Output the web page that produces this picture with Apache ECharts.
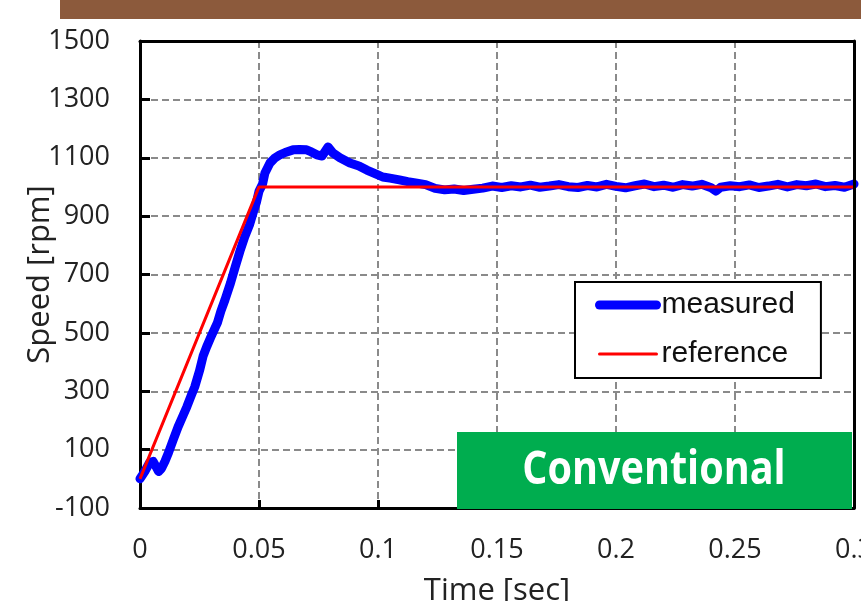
<!DOCTYPE html>
<html>
<head>
<meta charset="utf-8">
<script src="https://cdn.jsdelivr.net/npm/echarts@6/dist/echarts.min.js"></script>
<style>
html,body{margin:0;padding:0;background:#fff;}
#chart{width:861px;height:601px;}
</style>
</head>
<body>
<div id="chart"></div>
<script>
// ---- data ----
const xTicks = [0, 0.05, 0.1, 0.15, 0.2, 0.25, 0.3];
const yTicks = [-100, 100, 300, 500, 700, 900, 1100, 1300, 1500];

const measuredTime = [
  0, 0.002, 0.004, 0.0055, 0.0065, 0.0078, 0.009, 0.0105, 0.012, 0.014,
  0.016, 0.018, 0.0197, 0.0215, 0.023, 0.025, 0.0265, 0.028, 0.030, 0.0325,
  0.034, 0.0357, 0.038, 0.040, 0.042, 0.044, 0.046, 0.0475, 0.049, 0.050,
  0.0515, 0.0525, 0.0546, 0.0565, 0.0588, 0.061, 0.0643, 0.067, 0.070, 0.072,
  0.0743, 0.0765, 0.079, 0.0811, 0.084, 0.0882, 0.092, 0.0953, 0.099, 0.102,
  0.105, 0.109, 0.1125, 0.1164, 0.120,
  0.124, 0.128, 0.132, 0.136, 0.140, 0.144, 0.148, 0.152, 0.156, 0.160,
  0.164, 0.168, 0.172, 0.176, 0.180, 0.184, 0.188, 0.192, 0.196, 0.200,
  0.204, 0.208, 0.212, 0.216, 0.220, 0.224, 0.228, 0.232, 0.236, 0.240,
  0.242, 0.244, 0.248, 0.252, 0.256, 0.260, 0.264, 0.268, 0.272, 0.276,
  0.280, 0.284, 0.288, 0.292, 0.296, 0.300
];
const measuredSpeed = [
  0, 25, 55, 60, 45, 25, 35, 60, 90, 135,
  178, 215, 247, 285, 315, 370, 420, 452, 490, 534,
  575, 613, 670, 726, 780, 829, 870, 911, 950, 985,
  1010, 1048, 1082, 1098, 1110, 1118, 1127, 1128, 1127, 1120,
  1110, 1106, 1137, 1116, 1100, 1082, 1072, 1058, 1045, 1034,
  1030, 1024, 1018, 1013, 1008,
  995, 990, 993, 988, 992, 996, 1003, 998, 1004, 1000,
  1006, 999, 1003, 1008, 1001, 998, 1005, 1000, 1009, 1002,
  997, 1004, 1010, 1001, 1006, 999, 1008, 1003, 1009, 997,
  986, 999, 1004, 1001, 1007, 998, 1003, 1009, 1000, 1008,
  1004, 1010, 1001, 1005, 999, 1010
];
const referenceTime = [0, 0.05, 0.3];
const referenceSpeed = [0, 1000, 1000];

const seriesNames = ['measured', 'reference'];
const titleX = 'Time [sec]';
const titleY = 'Speed [rpm]';
const badgeText = 'Conventional';

// ---- chart ----
const pairs = (xs, ys) => xs.map((x, i) => [x, ys[i]]);
const labelFont = 'Open Sans';
const xMin = xTicks[0], xMax = xTicks[xTicks.length - 1];
const yMin = yTicks[0], yMax = yTicks[yTicks.length - 1];
const gridLine = {show: true, lineStyle: {color: '#8a8a8a', width: 2, type: [7, 4]}};
const frameAxis = {
  axisLine: {show: true, onZero: false, lineStyle: {color: '#000', width: 3}},
  axisTick: {show: false}, axisLabel: {show: false}, splitLine: {show: false},
  z: 5
};

const chart = echarts.init(document.getElementById('chart'), null, {renderer: 'canvas'});
chart.setOption({
  animation: false,
  backgroundColor: '#fff',
  grid: {
    left: 140, top: 41, right: 7, bottom: 93,
    containLabel: false, outerBoundsMode: 'none'
  },
  xAxis: [{
    type: 'value',
    min: xMin, max: xMax, interval: 0.05,
    name: titleX, nameLocation: 'middle', nameGap: 68, nameMoveOverlap: false,
    nameTextStyle: {fontFamily: labelFont, fontSize: 31, color: '#222'},
    axisLine: {onZero: false, lineStyle: {color: '#000', width: 3}},
    axisTick: {inside: true, length: 8, lineStyle: {color: '#000', width: 3}},
    axisLabel: {
      margin: 29, fontFamily: labelFont, fontSize: 27, color: '#222',
      formatter: v => String(Math.round(v * 1000) / 1000)
    },
    splitLine: gridLine
  }, Object.assign({type: 'value', position: 'top', min: xMin, max: xMax}, frameAxis)],
  yAxis: [{
    type: 'value',
    min: yMin, max: yMax, interval: 200,
    name: titleY, nameLocation: 'middle', nameGap: 84, nameMoveOverlap: false,
    nameTextStyle: {fontFamily: labelFont, fontSize: 31, color: '#222'},
    axisLine: {onZero: false, lineStyle: {color: '#000', width: 3}},
    axisTick: {inside: true, length: 10, lineStyle: {color: '#000', width: 3}},
    axisLabel: {
      margin: 30, fontFamily: labelFont, fontSize: 27, color: '#222',
      formatter: v => String(v)
    },
    splitLine: gridLine
  }, Object.assign({type: 'value', position: 'right', min: yMin, max: yMax}, frameAxis)],
  legend: {
    data: seriesNames,
    orient: 'vertical',
    left: 575, top: 282,
    padding: [8, 26, 9, 20],
    itemGap: 19,
    itemWidth: 57, itemHeight: 14,
    borderColor: '#000', borderWidth: 2, backgroundColor: '#fff',
    itemStyle: {opacity: 0},
    lineStyle: {width: 'inherit', cap: 'round'},
    textStyle: {fontFamily: 'Liberation Sans', fontSize: 30, color: '#111'}
  },
  series: [
    {
      name: seriesNames[0], type: 'line',
      data: pairs(measuredTime, measuredSpeed),
      showSymbol: false, symbol: 'none',
      lineStyle: {color: '#0000ff', width: 9, cap: 'round', join: 'round'},
      itemStyle: {color: '#0000ff'},
      z: 2
    },
    {
      name: seriesNames[1], type: 'line',
      data: pairs(referenceTime, referenceSpeed),
      showSymbol: false, symbol: 'none',
      lineStyle: {color: '#ff0000', width: 3},
      itemStyle: {color: '#ff0000'},
      z: 3
    }
  ],
  graphic: [
    {
      type: 'rect', left: 60, top: 0, z: 100,
      shape: {width: 801, height: 19},
      style: {fill: '#8c5a3c'}
    },
    {
      type: 'rect', left: 457, top: 432, z: 100,
      shape: {width: 395, height: 77},
      style: {fill: '#00ad4f'}
    },
    {
      type: 'text', x: 654, y: 471, z: 101,
      scaleX: 0.86, originX: 0, originY: 0,
      style: {
        text: badgeText, fill: '#fff',
        font: 'bold 46px "Open Sans"',
        align: 'center', verticalAlign: 'middle'
      }
    }
  ]
});
</script>
</body>
</html>
